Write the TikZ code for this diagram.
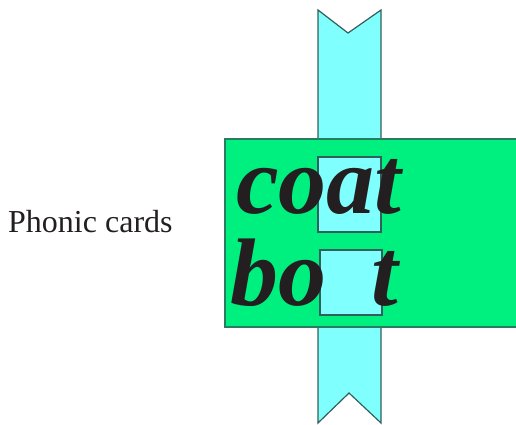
\documentclass[tikz,border=0pt]{standalone}
\usepackage{fontspec}
\setmainfont{Liberation Serif}
\usetikzlibrary{calc}
\definecolor{cardgreen}{RGB}{0,240,128}
\definecolor{stripcyan}{RGB}{128,255,255}
\definecolor{edgegray}{RGB}{50,95,90}
\definecolor{inkblack}{RGB}{35,31,32}
\tikzset{
  stripshape/.style={fill=stripcyan, draw=edgegray, line width=1.2pt, line join=miter},
  cardshape/.style={fill=cardgreen, draw=edgegray!80!cardgreen, line width=1.4pt},
  windowshape/.style={fill=stripcyan, draw=edgegray, line width=1.2pt},
  bigword/.style={inner sep=0pt, text=inkblack, font=\fontsize{96}{96}\selectfont\bfseries\itshape},
  caption/.style={inner sep=0pt, text=inkblack, font=\fontsize{32}{32}\selectfont}
}
\begin{document}
\begin{tikzpicture}[x=1pt, y=-1pt]
\useasboundingbox (0,0) rectangle (516,425);
% the sliding strip behind the card, notched at both ends
\draw[stripshape] (318,10) -- (348,33) -- (381,10) -- (381,423) -- (349,393) -- (318,423) -- cycle;
% the card
\draw[cardshape] (225,139) rectangle (517,327);
% windows cut in the card, showing the strip
\node[windowshape, minimum width=63pt, minimum height=75pt, inner sep=0pt] (win1) at (349.5,194.5) {};
\node[windowshape, minimum width=62pt, minimum height=65pt, inner sep=0pt] (win2) at (351,282.5) {};
% words
\node[bigword, anchor=base west] (coat) at (236,213) {coat};
\node[bigword, anchor=base west] (bo) at (230,305) {bo};
\node[bigword, anchor=base east] (tt) at ($(coat.base east)+(-3,92)$) {t};
% label
\node[caption, anchor=base west] (label) at (8,232) {Phonic cards};
\end{tikzpicture}
\end{document}
